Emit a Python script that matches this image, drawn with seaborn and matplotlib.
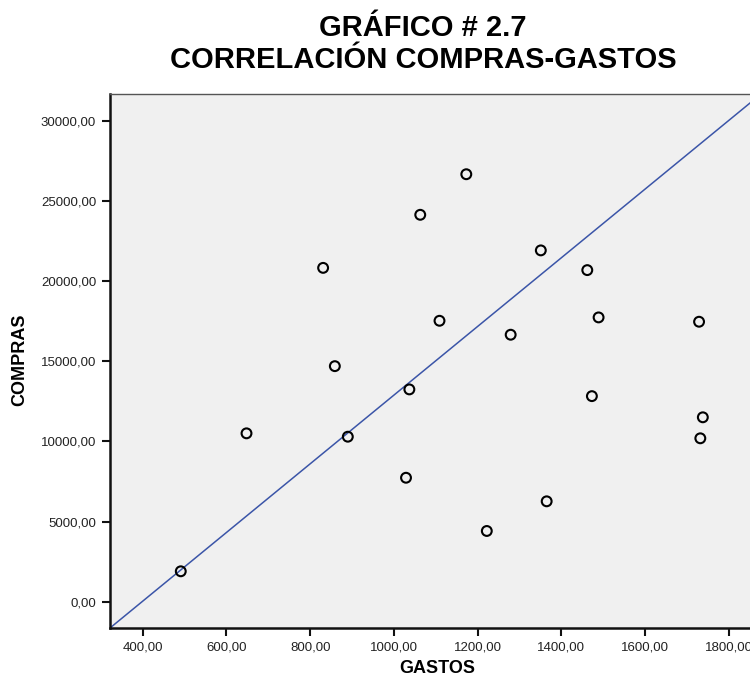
import pandas as pd
import seaborn as sns
import matplotlib.pyplot as plt
import numpy as np

# Puntos
gastos = [491, 648, 831, 859, 890, 1029, 1037, 1063, 1109, 1173,
          1222, 1279, 1351, 1365, 1462, 1473, 1489, 1729, 1732, 1738]
compras = [1895, 10500, 20820, 14690, 10290, 7730, 13240, 24130, 17520, 26660,
           4410, 16650, 21910, 6260, 20680, 12820, 17730, 17460, 10190, 11500]

x_ticks = [400, 600, 800, 1000, 1200, 1400, 1600, 1800]
y_ticks = [0, 5000, 10000, 15000, 20000, 25000, 30000]

df = pd.DataFrame({"GASTOS": gastos, "COMPRAS": compras})

sns.set_style("ticks")
plt.rcParams['font.family'] = ['Liberation Sans', 'DejaVu Sans']
plt.rcParams['text.color'] = 'black'

fig = plt.figure(figsize=(7.5, 6.84), dpi=100)
ax = fig.add_axes([0.1467, 0.0819, 0.868, 0.7807])
ax.set_facecolor('#f0f0f0')

sns.scatterplot(data=df, x="GASTOS", y="COMPRAS", ax=ax, s=50,
                facecolor='none', edgecolor='black', linewidth=1.5, zorder=3)

# linea de referencia (diagonal del area del grafico)
ax.axline((0, 0), (1, 1), transform=ax.transAxes, color='#3b55a8', lw=1.1, zorder=2)

ax.set_xlim(322, 1877)
ax.set_ylim(-1640, 31665)
ax.set_xticks(x_ticks)
ax.set_yticks(y_ticks)
ax.set_xticklabels([f"{v},00" for v in x_ticks], fontsize=9.5, color='#222222')
ax.set_yticklabels([f"{v},00" for v in y_ticks], fontsize=9.5, color='#222222')
ax.tick_params(length=6, width=1.5, pad=4, color='#111111')

for side in ['left', 'bottom']:
    ax.spines[side].set_linewidth(1.8)
    ax.spines[side].set_color('#111111')
ax.spines['top'].set_linewidth(1.0)
ax.spines['top'].set_color('#555555')
ax.spines['right'].set_visible(False)

ax.set_xlabel("")
ax.set_ylabel("")
fig.text(0.583, 0.010, "GASTOS", fontsize=13, fontweight='bold', ha='center',
         va='bottom', color='black')
fig.text(0.027, 0.474, "COMPRAS", fontsize=13, fontweight='bold', rotation=90,
         ha='center', va='center', color='black')

fig.text(0.564, 0.936, "GRÁFICO # 2.7\nCORRELACIÓN COMPRAS-GASTOS", fontsize=21,
         fontweight='bold', ha='center', va='center', linespacing=1.2, color='black')

fig.savefig("out.png", dpi=100)
